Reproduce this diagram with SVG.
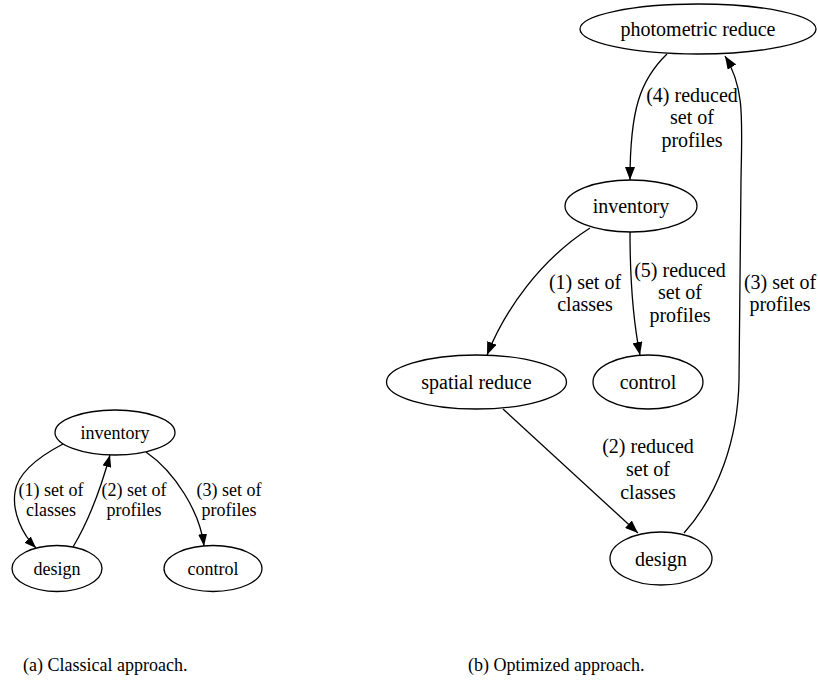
<svg xmlns="http://www.w3.org/2000/svg" width="818" height="689" viewBox="0 0 818 689">
<style>
.n ellipse{fill:#fff;stroke:#000;stroke-width:1.3}
text{font-family:"Liberation Serif","Times New Roman","DejaVu Serif",serif;text-anchor:middle;fill:#000}
.a text{font-size:18px}
.b text{font-size:20px}
.e path{fill:none;stroke:#000;stroke-width:1.3}
.e path.ar{marker-end:url(#ah)}
.e path.arb{marker-end:url(#ahb)}
.la text{font-size:18px}
.lb text{font-size:20px}
text.cap{font-size:18px;text-anchor:start}
</style>
<defs>
<marker id="ah" viewBox="0 0 12 9" refX="12" refY="4.5" markerWidth="12" markerHeight="9" markerUnits="userSpaceOnUse" orient="auto">
<path d="M0,0 L12,4.5 L0,9 Z" fill="#000"/>
</marker>
<marker id="ahb" viewBox="0 0 13 10" refX="13" refY="5" markerWidth="13" markerHeight="10" markerUnits="userSpaceOnUse" orient="auto">
<path d="M0,0 L13,5 L0,10 Z" fill="#000"/>
</marker>
</defs>
<g id="connectors" class="e">
<path class="ar" d="M63,444 C40,456 18,472 15,492 C12,512 22,534 36,548"/>
<path class="ar" d="M73,547 C88,522 99,495 110,455"/>
<path class="ar" d="M146,452 C175,472 200,512 204,546"/>
<path class="arb" d="M667,54 C640,80 630,110 630,180"/>
<path class="arb" d="M684,533 C718,495 738,440 739,380 L741,180 C742,120 745,88 725,56"/>
<path class="arb" d="M590,228 C540,260 505,310 487,355"/>
<path class="arb" d="M630,232 C630,280 633,320 640,355"/>
<path class="arb" d="M503,409 L638,533"/>
</g>
<g class="la">
<text x="51" y="496">(1) set of</text><text x="51" y="516">classes</text>
<text x="134" y="496">(2) set of</text><text x="134" y="516">profiles</text>
<text x="229" y="496">(3) set of</text><text x="229" y="516">profiles</text>
</g>
<g class="lb">
<text x="692" y="102">(4) reduced</text><text x="692" y="124">set of</text><text x="692" y="147">profiles</text>
<text x="780" y="289">(3) set of</text><text x="780" y="311">profiles</text>
<text x="585" y="289">(1) set of</text><text x="585" y="311">classes</text>
<text x="680" y="277">(5) reduced</text><text x="680" y="299">set of</text><text x="680" y="322">profiles</text>
<text x="648" y="453">(2) reduced</text><text x="648" y="476">set of</text><text x="648" y="499">classes</text>
</g>
<g id="a-inventory" class="n a"><ellipse cx="115" cy="432.5" rx="60" ry="22.5"/><text x="115" y="438.5">inventory</text></g>
<g id="a-design" class="n a"><ellipse cx="57" cy="568.5" rx="45" ry="23"/><text x="57" y="574.5">design</text></g>
<g id="a-control" class="n a"><ellipse cx="213" cy="568.5" rx="49" ry="23"/><text x="213" y="574.5">control</text></g>
<g id="b-photometric" class="n b"><ellipse cx="698" cy="29" rx="118" ry="25"/><text x="698" y="36">photometric reduce</text></g>
<g id="b-inventory" class="n b"><ellipse cx="631" cy="206" rx="66" ry="26"/><text x="631" y="213">inventory</text></g>
<g id="b-spatial" class="n b"><ellipse cx="476.5" cy="382" rx="90" ry="27"/><text x="476.5" y="389">spatial reduce</text></g>
<g id="b-control" class="n b"><ellipse cx="648" cy="382" rx="55" ry="27"/><text x="648" y="389">control</text></g>
<g id="b-design" class="n b"><ellipse cx="661" cy="558.5" rx="51" ry="26.5"/><text x="661" y="565.5">design</text></g>
<text class="cap" x="23" y="671">(a) Classical approach.</text>
<text class="cap" x="468" y="671">(b) Optimized approach.</text>
</svg>
